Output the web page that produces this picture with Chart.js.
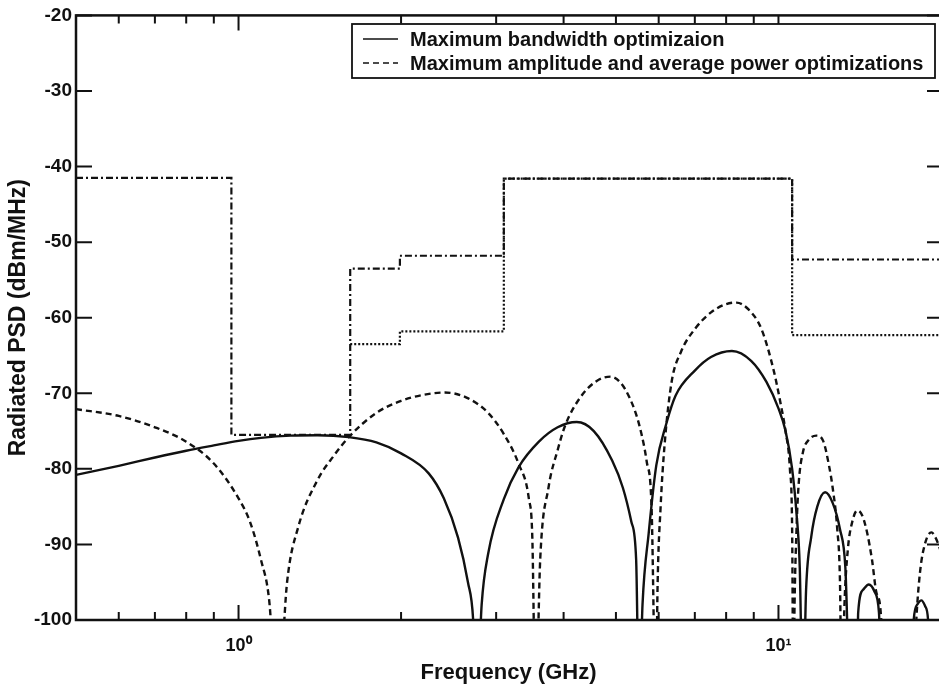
<!DOCTYPE html>
<html>
<head>
<meta charset="utf-8">
<script src="https://cdn.jsdelivr.net/npm/chart.js@4.4.1/dist/chart.umd.min.js"></script>
<style>
  html, body { margin: 0; padding: 0; background: #fff; overflow: hidden; }
  #chart { display: block; }
</style>
</head>
<body>
<canvas id="chart" width="950" height="691" style="width:950px;height:691px"></canvas>
<script>
// Maximum bandwidth optimization (solid)
var bwFreq = [0.5, 0.6, 0.7, 0.8, 0.9, 1.0, 1.1, 1.25, 1.4, 1.6, 1.8, 2.0, 2.25, 2.4, 2.55, 2.66, 2.72, 2.76,
  2.82, 2.9, 3.1, 3.3, 3.6, 3.9, 4.23, 4.55, 4.92, 5.15, 5.34, 5.45, 5.52,
  5.6, 5.75, 5.94, 6.2, 6.45, 7.0, 7.5, 8.2, 8.9, 9.5, 10.0, 10.3, 10.6, 10.8, 10.95, 11.1,
  11.25, 11.5, 11.8, 12.2, 12.6, 13.0, 13.3, 13.6,
  13.95, 14.05, 14.35, 14.7, 15.05, 15.35, 15.6,
  17.6, 17.8, 18.1, 18.4, 18.7, 18.95, 19.1, 20];
var bwPsd = [-80.8, -79.6, -78.5, -77.6, -76.9, -76.3, -75.9, -75.6, -75.55, -75.8, -76.5, -77.95, -80.6, -83.9, -89.1, -95, -100, -112,
  -98, -91.2, -84, -79.8, -76.4, -74.5, -73.8, -75.0, -78.9, -82.5, -87, -92, -112,
  -98, -88.5, -79.5, -74, -70.3, -67.0, -65.2, -64.4, -65.7, -68.5, -72, -74.9, -80, -85.9, -93, -112,
  -96, -89, -85, -83.1, -84.5, -88, -93, -112,
  -112, -99, -96, -95.3, -96.2, -99, -112,
  -112, -100, -97.9, -97.4, -98.2, -100.5, -112, -112];

// Maximum amplitude and average power optimizations (dashed)
var ampFreq = [0.5, 0.6, 0.7, 0.8, 0.9, 1.0, 1.05, 1.1, 1.14, 1.18,
  1.23, 1.29, 1.4, 1.5, 1.6, 1.8, 2.0, 2.2, 2.41, 2.65, 2.9, 3.1, 3.3, 3.45, 3.5, 3.55,
  3.62, 3.75, 3.9, 4.03, 4.3, 4.6, 4.89, 5.1, 5.3, 5.45, 5.58, 5.7, 5.82, 5.93,
  5.97, 6.05, 6.15, 6.34, 6.6, 7.0, 7.5, 8.0, 8.36, 8.8, 9.3, 9.8, 10.1, 10.3, 10.5, 10.6, 10.66,
  10.7, 10.8, 10.9, 11.1, 11.4, 11.75, 12.1, 12.4, 12.6, 12.85, 13.0, 13.1,
  13.25, 13.45, 13.7, 14.0, 14.3, 14.6, 14.9, 15.2, 15.5, 15.6,
  17.7, 18.0, 18.3, 18.7, 19.2, 19.6, 20];
var ampPsd = [-72.1, -73.0, -74.5, -76.4, -79.3, -83.9, -87, -92, -97.5, -112,
  -95, -87.7, -81.5, -78.3, -75.8, -72.6, -71.0, -70.2, -69.9, -70.6, -72.6, -75.4, -79.3, -84, -89, -112,
  -92, -82.5, -77.5, -74.2, -70.5, -68.4, -67.8, -68.6, -70.6, -72.8, -75.5, -79, -85, -112,
  -96, -85, -77, -68.5, -64.5, -61.5, -59.3, -58.2, -58.0, -58.9, -61.5, -67, -71.5, -74.9, -80, -88, -112,
  -100, -88, -82, -77.8, -76.1, -75.6, -76.3, -79.5, -82.5, -88, -95, -112,
  -98, -90.5, -87, -85.5, -86.2, -88.5, -92, -96.5, -100, -112,
  -112, -100, -93.5, -89.8, -88.4, -89.3, -91];

// emission masks (level holds from each frequency to the next)
var maskIndoorFreq = [0.5, 0.97, 1.61, 1.99, 3.1, 10.6, 20];
var maskIndoorPsd = [-41.5, -75.5, -53.5, -51.8, -41.6, -52.3, -52.3];
var maskOutdoorFreq = [1.61, 1.99, 3.1, 10.6, 20];
var maskOutdoorPsd = [-63.5, -61.8, -41.6, -62.3, -62.3];

var xMajor = [1, 10];
var xMajorLabels = ['10\u2070', '10\u00B9'];
var xMinor = [0.6, 0.7, 0.8, 0.9, 2, 3, 4, 5, 6, 7, 8, 9];
var yTicks = [-100, -90, -80, -70, -60, -50, -40, -30, -20];

var INK = '#111';
Chart.defaults.font.family = '"Liberation Sans", Arial, sans-serif';
Chart.defaults.color = INK;

function pts(xs, ys) {
  return xs.map(function (x, i) { return { x: x, y: ys[i] }; });
}

var framePlugin = {
  id: 'frame',
  afterDatasetsDraw: function (chart) {
    var ctx = chart.ctx, a = chart.chartArea;
    var xs = chart.scales.x, ys = chart.scales.y;
    ctx.save();
    ctx.strokeStyle = INK;
    ctx.lineWidth = 2.5;
    ctx.strokeRect(a.left, a.top, a.right - a.left, a.bottom - a.top);
    ctx.lineWidth = 2;
    ctx.beginPath();
    xMinor.concat(xMajor).forEach(function (v) {
      var px = xs.getPixelForValue(v);
      var len = xMajor.indexOf(v) >= 0 ? 15 : 8;
      ctx.moveTo(px, a.bottom); ctx.lineTo(px, a.bottom - len);
      ctx.moveTo(px, a.top); ctx.lineTo(px, a.top + len);
    });
    yTicks.forEach(function (v) {
      var py = ys.getPixelForValue(v);
      ctx.moveTo(a.left, py); ctx.lineTo(a.left + 16, py);
      ctx.moveTo(a.right, py); ctx.lineTo(a.right - 14, py);
    });
    ctx.stroke();
    ctx.restore();
  }
};

var boxLegend = {
  id: 'boxLegend',
  afterDraw: function (chart) {
    var ctx = chart.ctx;
    var items = chart.data.datasets.filter(function (d) { return d.inLegend; });
    ctx.save();
    ctx.fillStyle = '#fff';
    ctx.fillRect(352, 24, 583, 54);
    ctx.strokeStyle = INK;
    ctx.lineWidth = 1.8;
    ctx.strokeRect(352, 24, 583, 54);
    ctx.font = 'bold 20px "Liberation Sans", Arial, sans-serif';
    ctx.textBaseline = 'middle';
    ctx.fillStyle = INK;
    items.forEach(function (d, i) {
      var y = 39 + i * 24;
      ctx.setLineDash(d.borderDash || []);
      ctx.lineWidth = 1.6;
      ctx.beginPath();
      ctx.moveTo(363, y); ctx.lineTo(398, y);
      ctx.stroke();
      ctx.setLineDash([]);
      ctx.fillText(d.label, 410, y + 1);
    });
    ctx.restore();
  }
};

new Chart(document.getElementById('chart'), {
  type: 'line',
  data: {
    datasets: [
      {
        label: 'Maximum bandwidth optimizaion',
        inLegend: true,
        data: pts(bwFreq, bwPsd),
        borderColor: INK,
        borderWidth: 2.4,
        pointRadius: 0,
        cubicInterpolationMode: 'monotone'
      },
      {
        label: 'Maximum amplitude and average power optimizations',
        inLegend: true,
        data: pts(ampFreq, ampPsd),
        borderColor: INK,
        borderWidth: 2.4,
        borderDash: [6, 4],
        pointRadius: 0,
        cubicInterpolationMode: 'monotone'
      },
      {
        label: 'Indoor mask',
        data: pts(maskIndoorFreq, maskIndoorPsd),
        borderColor: INK,
        borderWidth: 2.2,
        borderDash: [7, 3, 2, 3],
        pointRadius: 0,
        stepped: 'before'
      },
      {
        label: 'Outdoor mask',
        data: pts(maskOutdoorFreq, maskOutdoorPsd),
        borderColor: INK,
        borderWidth: 2.2,
        borderDash: [2, 2],
        pointRadius: 0,
        stepped: 'before'
      }
    ]
  },
  options: {
    responsive: false,
    animation: false,
    layout: { padding: { left: 0, top: 15, right: 9, bottom: 0 } },
    plugins: {
      legend: { display: false },
      tooltip: { enabled: false }
    },
    scales: {
      x: {
        type: 'logarithmic',
        min: 0.5,
        max: 20,
        grid: { display: false, drawTicks: false },
        border: { display: false },
        afterBuildTicks: function (scale) {
          scale.ticks = xMajor.map(function (v) { return { value: v, major: true }; });
        },
        afterFit: function (scale) { scale.height = 71; },
        ticks: {
          autoSkip: false,
          maxRotation: 0,
          padding: 15,
          font: { size: 18, weight: 'bold' },
          callback: function (value) {
            var i = xMajor.indexOf(value);
            return i >= 0 ? xMajorLabels[i] : '';
          }
        },
        title: {
          display: true,
          text: 'Frequency (GHz)',
          font: { size: 22, weight: 'bold' },
          padding: { top: 0, bottom: 5 }
        }
      },
      y: {
        type: 'linear',
        min: -100,
        max: -20,
        grid: { display: false, drawTicks: false },
        border: { display: false },
        afterFit: function (scale) { scale.width = 76; },
        ticks: {
          stepSize: 10,
          padding: 4,
          font: { size: 19, weight: 'bold' }
        },
        title: {
          display: true,
          text: 'Radiated PSD (dBm/MHz)',
          font: { size: 23, weight: 'bold' },
          padding: { top: 5, bottom: 0 }
        }
      }
    }
  },
  plugins: [framePlugin, boxLegend]
});
</script>
</body>
</html>
